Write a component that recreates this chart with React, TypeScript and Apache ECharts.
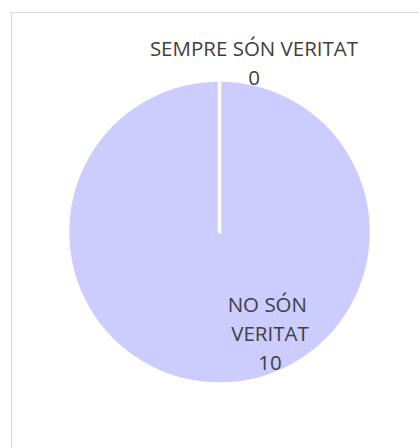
import React, { useEffect, useRef } from "react";
import * as echarts from "echarts";

const categories = ["SEMPRE SÓN VERITAT", "NO SÓN VERITAT"];
const values = [0, 10];

// label anchor points (pixel) for each category, mimicking the original layout
const labelAnchors: [number, number][] = [
  [254, 62.5],
  [270, 333],
];

export default function App() {
  const ref = useRef<HTMLDivElement>(null);
  useEffect(() => {
    document.body.style.margin = "0";
    const chart = echarts.init(ref.current!, undefined, { renderer: "svg" });
    // drawn in reverse order so the zero-width slice's white border sits on top
    const order = categories.map((_, i) => i).reverse();
    const data = order.map((i) => ({
      name: categories[i],
      value: values[i],
      label: i === 1 ? { width: 90, overflow: "break" as const } : {},
    }));
    chart.setOption({
      animation: false,
      backgroundColor: "#ffffff",
      graphic: [
        {
          type: "rect",
          shape: { x: 11.5, y: 12.5, width: 600, height: 600 },
          style: { fill: "none", stroke: "#d9d9d9", lineWidth: 1 },
          silent: true,
        },
      ],
      series: [
        {
          type: "pie",
          center: [219.5, 232],
          radius: 152,
          startAngle: 90,
          clockwise: true,
          minAngle: 0,
          avoidLabelOverlap: false,
          itemStyle: { color: "#ccccff", borderColor: "#ffffff", borderWidth: 3.5 },
          emphasis: { disabled: true },
          label: {
            show: true,
            position: "inside",
            formatter: "{b}\n{c}",
            fontFamily: "Open Sans",
            fontSize: 20.5,
            lineHeight: 29,
            color: "#404040",
            align: "center",
          },
          labelLine: { show: false },
          labelLayout: (p: any) => {
            const a = labelAnchors[order[p.dataIndex]];
            return { x: a[0], y: a[1], align: "center", verticalAlign: "middle" };
          },
          data,
        },
      ],
    });
    return () => chart.dispose();
  }, []);
  return (
    <div
      ref={ref}
      style={{ position: "fixed", left: 0, top: 0, width: 419, height: 448 }}
    />
  );
}
